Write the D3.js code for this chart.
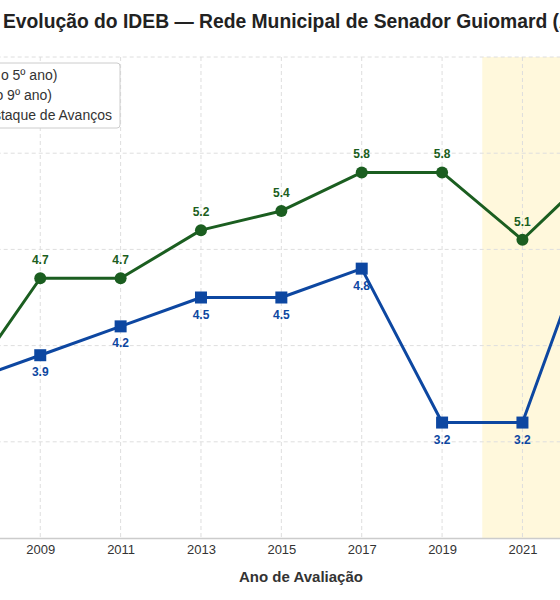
<!DOCTYPE html>
<html lang="pt-BR">
<head>
<meta charset="utf-8">
<title>Evolução do IDEB — Senador Guiomard</title>
<script src="https://cdn.jsdelivr.net/npm/d3@7"></script>
<style>
  body { margin: 0; background: #fff; overflow: hidden; }
  svg { display: block; font-family: "Liberation Sans", Arial, sans-serif; }
</style>
</head>
<body>
<svg id="chart" width="560" height="600"></svg>
<script>
// dados do IDEB (rede municipal)
const anos = [2007, 2009, 2011, 2013, 2015, 2017, 2019, 2021, 2023];
const anosIniciais = [3.5, 4.7, 4.7, 5.2, 5.4, 5.8, 5.8, 5.1, 5.9];
const anosFinais = [3.6, 3.9, 4.2, 4.5, 4.5, 4.8, 3.2, 3.2, 5.5];
const xTicks = [2007, 2009, 2011, 2013, 2015, 2017, 2019, 2021, 2023];
const yTicks = [2, 3, 4, 5, 6, 7];
const periodoDestaque = [2020, 2024];
const legendas = [
    'Anos Iniciais (até o 5º ano)',
    'Anos Finais (até o 9º ano)',
    '2020 a 2023: Destaque de Avanços'
];

const corIniciais = '#1b5e20';
const corFinais = '#0d47a1';

const svg = d3.select('#chart');

// the plot is wider than the window, so part of it falls outside on both sides
const x = d3.scaleLinear().domain([2006, 2024]).range([-80.3, 643]);
const y = d3.scaleLinear().domain([2, 7]).range([538, 57]);

// faixa de destaque
svg.append('rect')
    .attr('x', x(periodoDestaque[0]))
    .attr('y', y(7))
    .attr('width', x(periodoDestaque[1]) - x(periodoDestaque[0]))
    .attr('height', y(2) - y(7))
    .attr('fill', '#fff8dc');

// grid
svg.append('g').selectAll('line').data(xTicks).join('line')
    .attr('x1', d => x(d)).attr('x2', d => x(d))
    .attr('y1', y(7)).attr('y2', y(2))
    .attr('stroke', '#dedede').attr('stroke-dasharray', '4,3');

svg.append('g').selectAll('line').data(yTicks.slice(1)).join('line')
    .attr('x1', x(2006)).attr('x2', x(2024))
    .attr('y1', d => y(d)).attr('y2', d => y(d))
    .attr('stroke', '#dedede').attr('stroke-dasharray', '4,3');

// eixos
const xAxis = svg.append('g')
    .attr('transform', `translate(0,${y(2)})`)
    .call(d3.axisBottom(x).tickValues(xTicks).tickFormat(d3.format('d')).tickSize(0).tickPadding(7));
xAxis.select('.domain').attr('stroke', '#cccccc').attr('stroke-width', 1.5);
xAxis.selectAll('text').attr('font-size', 13).attr('fill', '#333').attr('font-family', 'Liberation Sans, Arial, sans-serif');

const yAxis = svg.append('g')
    .attr('transform', `translate(${x(2006)},0)`)
    .call(d3.axisLeft(y).tickValues(yTicks).tickFormat(d3.format('.1f')).tickSize(0).tickPadding(8));
yAxis.select('.domain').remove();
yAxis.selectAll('text').attr('font-size', 13).attr('fill', '#333').attr('font-family', 'Liberation Sans, Arial, sans-serif');

svg.append('text')
    .attr('x', 301).attr('y', 582)
    .attr('text-anchor', 'middle')
    .attr('font-size', 15).attr('font-weight', 'bold').attr('fill', '#333')
    .text('Ano de Avaliação');

// titulo
svg.append('text')
    .attr('x', 3).attr('y', 28)
    .attr('font-size', 19.3).attr('font-weight', 'bold').attr('fill', '#222')
    .text('Evolução do IDEB — Rede Municipal de Senador Guiomard (AC)');

// series
const series = [
    { valores: anosIniciais, cor: corIniciais, forma: 'circulo', dy: -14 },
    { valores: anosFinais, cor: corFinais, forma: 'quadrado', dy: 21 }
];

series.forEach(s => {
    const pts = anos.map((a, i) => ({ ano: a, v: s.valores[i] }));
    const line = d3.line().x(d => x(d.ano)).y(d => y(d.v));

    svg.append('path').datum(pts)
        .attr('fill', 'none').attr('stroke', s.cor).attr('stroke-width', 3)
        .attr('stroke-linejoin', 'round')
        .attr('d', line);

    if (s.forma === 'circulo') {
        svg.append('g').selectAll('circle').data(pts).join('circle')
            .attr('cx', d => x(d.ano)).attr('cy', d => y(d.v)).attr('r', 6)
            .attr('fill', s.cor);
    } else {
        svg.append('g').selectAll('rect').data(pts).join('rect')
            .attr('x', d => x(d.ano) - 6).attr('y', d => y(d.v) - 6)
            .attr('width', 12).attr('height', 12)
            .attr('fill', s.cor);
    }

    svg.append('g').selectAll('text').data(pts).join('text')
        .attr('x', d => x(d.ano)).attr('y', d => y(d.v) + s.dy)
        .attr('text-anchor', 'middle')
        .attr('font-size', 12).attr('font-weight', 'bold').attr('fill', s.cor)
        .text(d => d.v.toFixed(1));
});

// legenda (caixa no canto superior esquerdo, em parte fora da janela)
const legLeft = -168;
const leg = svg.append('g').attr('transform', `translate(${legLeft},63)`);
leg.append('rect')
    .attr('width', 288).attr('height', 65).attr('rx', 3)
    .attr('fill', '#fff').attr('stroke', '#cccccc');

// measure the prefix so the text column lines up like the original legend
const tmp = svg.append('text').attr('font-size', 14).text('Anos Iniciais (até ');
const prefixW = tmp.node().getComputedTextLength();
tmp.remove();
const textX = -3 - prefixW - legLeft;

legendas.forEach((txt, i) => {
    const ly = 17 + i * 20;
    const sx = textX - 40;
    if (i < 2) {
        const cor = i === 0 ? corIniciais : corFinais;
        leg.append('line').attr('x1', sx).attr('x2', sx + 28).attr('y1', ly - 5).attr('y2', ly - 5)
            .attr('stroke', cor).attr('stroke-width', 3);
        if (i === 0) {
            leg.append('circle').attr('cx', sx + 14).attr('cy', ly - 5).attr('r', 5).attr('fill', cor);
        } else {
            leg.append('rect').attr('x', sx + 9).attr('y', ly - 10).attr('width', 10).attr('height', 10).attr('fill', cor);
        }
    } else {
        leg.append('rect').attr('x', sx).attr('y', ly - 11).attr('width', 28).attr('height', 12)
            .attr('fill', '#fff8dc').attr('stroke', '#e6d9a8');
    }
    leg.append('text')
        .attr('x', textX).attr('y', ly)
        .attr('font-size', 14).attr('fill', '#333')
        .text(txt);
});
</script>
</body>
</html>
